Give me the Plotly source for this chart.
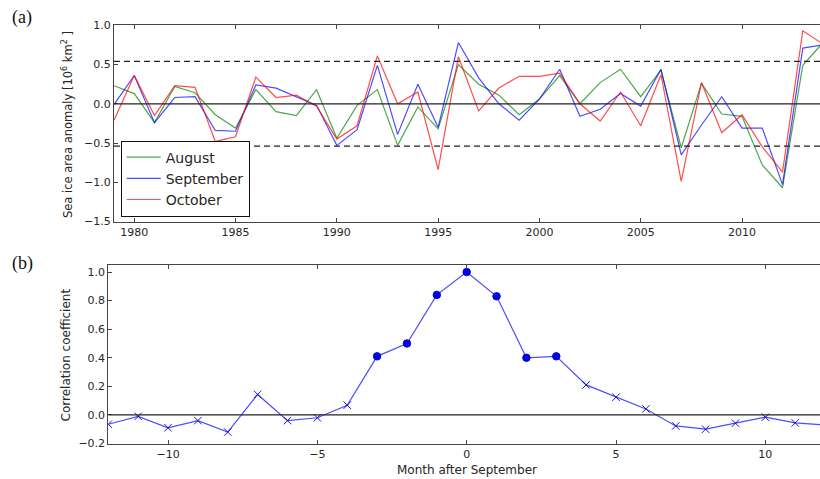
import plotly.graph_objects as go

# ---- data -------------------------------------------------------------
years = list(range(1979, 2015))
august = [0.23, 0.13, -0.24, 0.22, 0.14, -0.14, -0.31, 0.18, -0.10, -0.15,
          0.18, -0.44, -0.02, 0.18, -0.53, -0.04, -0.32, 0.50, 0.25, 0.11,
          -0.14, 0.06, 0.36, 0.0, 0.27, 0.44, 0.09, 0.43, -0.56, 0.26,
          -0.13, -0.16, -0.78, -1.07, 0.49, 0.78]
september = [-0.01, 0.36, -0.24, 0.08, 0.09, -0.34, -0.35, 0.24, 0.20, 0.09,
             -0.02, -0.53, -0.33, 0.49, -0.39, 0.25, -0.30, 0.78, 0.33, 0.0,
             -0.21, 0.06, 0.44, -0.16, -0.07, 0.13, -0.03, 0.44, -0.65, -0.27,
             0.09, -0.31, -0.31, -1.03, 0.71, 0.75]
october = [-0.21, 0.36, -0.15, 0.23, 0.21, -0.48, -0.42, 0.34, 0.08, 0.11,
           -0.03, -0.45, -0.28, 0.61, 0.0, 0.15, -0.84, 0.60, -0.09, 0.20,
           0.35, 0.35, 0.39, 0.0, -0.22, 0.15, -0.28, 0.37, -0.99, 0.27,
           -0.37, -0.14, -0.55, -0.87, 0.93, 0.76]
std_band = 0.54
year_ticks = [1980, 1985, 1990, 1995, 2000, 2005, 2010]
anom_ticks = [-1.5, -1.0, -0.5, 0.0, 0.5, 1.0]

lags = list(range(-12, 13))
correlation = [-0.065, -0.01, -0.09, -0.04, -0.12, 0.143, -0.04, -0.02, 0.068,
               0.41, 0.50, 0.84, 1.0, 0.83, 0.40, 0.41, 0.21, 0.124, 0.042,
               -0.077, -0.10, -0.058, -0.016, -0.056, -0.07]
significant = [abs(l) <= 3 for l in lags]
lag_ticks = [-10, -5, 0, 5, 10]
corr_ticks = [-0.2, 0.0, 0.2, 0.4, 0.6, 0.8, 1.0]

# ---- figure -----------------------------------------------------------
W, H = 820, 479
TICK_FONT = dict(family="DejaVu Sans", size=11, color="#262626")
SPINE = "#444444"

fig = go.Figure()

series = [("August", august, "rgba(0,128,0,0.7)"),
          ("September", september, "rgba(0,0,255,0.7)"),
          ("October", october, "rgba(255,0,0,0.7)")]
for name, vals, col in series:
    fig.add_trace(go.Scatter(x=years, y=vals, mode="lines", name=name,
                             legendgroup=name,
                             line=dict(color=col, width=1.2),
                             xaxis="x", yaxis="y"))

symbols = ["circle" if s else "x-thin" for s in significant]
fig.add_trace(go.Scatter(
    x=lags, y=correlation, mode="lines+markers", showlegend=False,
    line=dict(color="rgba(0,0,255,0.7)", width=1.2),
    marker=dict(symbol=symbols, size=7.5, color="#0000ee",
                line=dict(color="rgba(0,0,200,0.9)", width=1)),
    xaxis="x2", yaxis="y2"))

# reference lines
fig.add_shape(type="line", xref="x domain", yref="y", x0=0, x1=1, y0=0, y1=0,
              line=dict(color="#222222", width=1.2))
for v in (std_band, -std_band):
    fig.add_shape(type="line", xref="x domain", yref="y", x0=0, x1=1, y0=v, y1=v,
                  line=dict(color="#222222", width=1.2, dash="6px,4px"))
fig.add_shape(type="line", xref="x2 domain", yref="y2", x0=0, x1=1, y0=0, y1=0,
              line=dict(color="#222222", width=1.2))


def px_x(p):
    return p / W


def px_y(p):
    return 1 - p / H


axis_common = dict(showgrid=False, zeroline=False, showline=True,
                   linecolor=SPINE, linewidth=1, ticks="inside", ticklen=4,
                   tickcolor=SPINE, tickfont=TICK_FONT, automargin=False)

fig.update_layout(
    width=W, height=H,
    margin=dict(l=0, r=0, t=0, b=0, autoexpand=False),
    paper_bgcolor="white", plot_bgcolor="white",
    xaxis=dict(domain=[px_x(114), 1], range=[1979, 2013.85], anchor="y",
               tickvals=year_ticks, mirror="ticks", **axis_common),
    yaxis=dict(domain=[px_y(221.5), px_y(25.3)], range=[-1.5, 1.0], anchor="x",
               tickvals=anom_ticks, tickformat=".1f", **axis_common),
    xaxis2=dict(domain=[px_x(108.3), 1], range=[-12, 11.83], anchor="y2",
                tickvals=lag_ticks, mirror="ticks", **axis_common),
    yaxis2=dict(domain=[px_y(443.5), px_y(265.3)], range=[-0.2, 1.047],
                anchor="x2", tickvals=corr_ticks, tickformat=".1f",
                **axis_common),
    legend=dict(x=px_x(120.7), y=px_y(140.5), xanchor="left", yanchor="top",
                bgcolor="white", bordercolor="#111111", borderwidth=1,
                font=dict(family="DejaVu Sans", size=14, color="#262626"),
                traceorder="grouped", tracegroupgap=0, itemwidth=34),
    showlegend=True,
)

annotations = [
    dict(text="(a)", x=px_x(22), y=px_y(17),
         font=dict(family="Liberation Serif", size=18, color="#111111")),
    dict(text="(b)", x=px_x(22), y=px_y(263),
         font=dict(family="Liberation Serif", size=18, color="#111111")),
    dict(text="Sea ice area anomaly [10<sup>6</sup> km<sup>2</sup> ]",
         x=px_x(67), y=px_y(125), textangle=-90,
         font=dict(family="DejaVu Sans", size=11.5, color="#262626")),
    dict(text="Correlation coefficient", x=px_x(66), y=px_y(355.4),
         textangle=-90,
         font=dict(family="DejaVu Sans", size=12, color="#262626")),
    dict(text="Month after September", x=px_x(466.7), y=px_y(470),
         font=dict(family="DejaVu Sans", size=12, color="#262626")),
]
for a in annotations:
    fig.add_annotation(xref="paper", yref="paper", showarrow=False,
                       xanchor="center", yanchor="middle", **a)

fig.write_html("out.html")
